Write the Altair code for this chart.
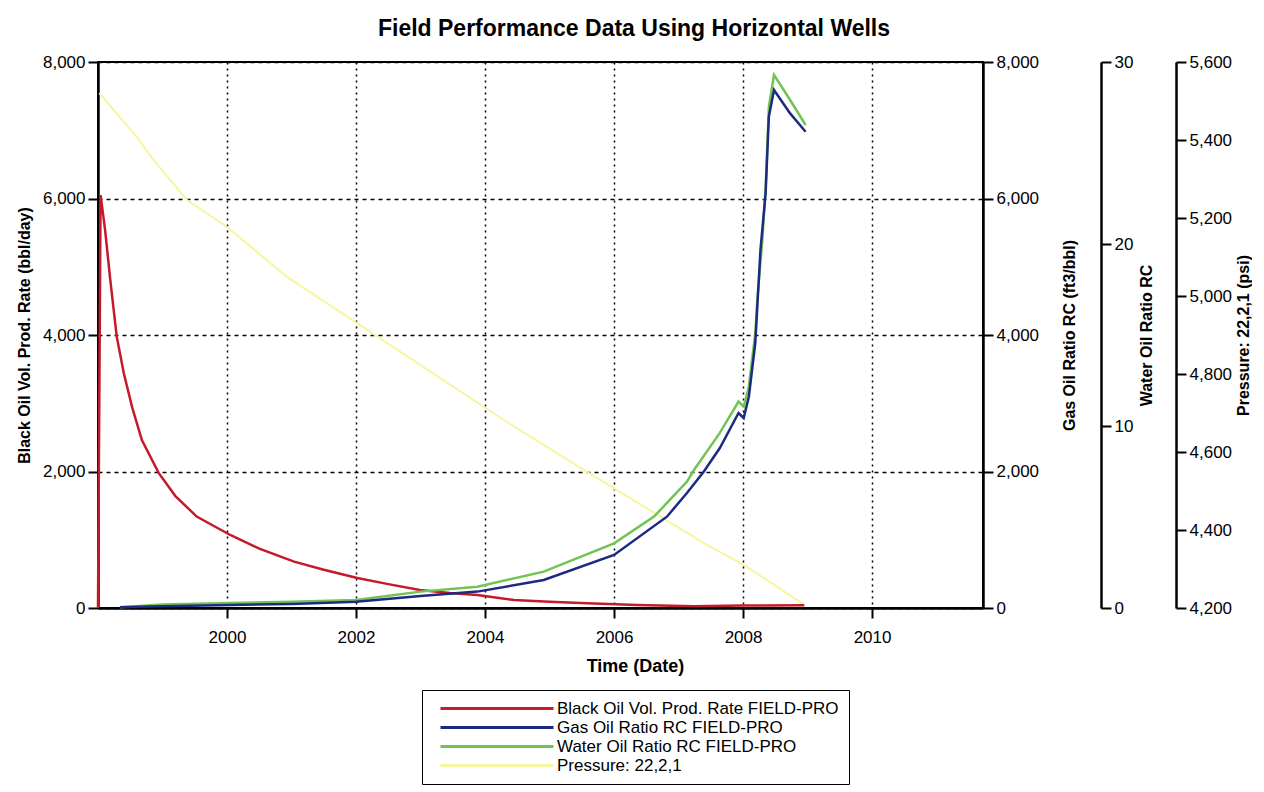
import altair as alt
import pandas as pd

# ---- data ----
oil_year = [1998.00, 1998.04, 1998.11, 1998.19, 1998.29, 1998.40, 1998.53, 1998.68, 1998.94, 1999.20,
            1999.53, 2000.05, 2000.50, 2001.04, 2001.50, 2002.02, 2002.50, 2002.99, 2003.45, 2003.88,
            2004.45, 2005.00, 2005.58, 2006.36, 2007.24, 2008.00, 2008.95]
oil_rate = [0, 6050, 5540, 4810, 3980, 3440, 2940, 2460, 1980, 1640,
            1340, 1070, 870, 680, 560, 440, 350, 265, 220, 190,
            117, 90, 68, 44, 25, 35, 40]

gor_year = [1998.34, 1999.00, 2000.05, 2001.00, 2002.00, 2003.00, 2003.88, 2004.91, 2006.00, 2006.82,
            2007.13, 2007.39, 2007.64, 2007.93, 2008.01, 2008.09, 2008.19, 2008.27, 2008.35, 2008.40,
            2008.48, 2008.73, 2008.97]
gor = [10, 25, 44, 60, 92, 176, 240, 410, 777, 1338,
       1685, 1997, 2344, 2857, 2784, 3096, 3883, 5245, 6080, 7198,
       7590, 7247, 6979]

wor_year = [1998.34, 1999.00, 2000.05, 2001.00, 2002.00, 2003.00, 2003.88, 2004.91, 2006.00, 2006.62,
            2007.13, 2007.24, 2007.64, 2007.93, 2008.01, 2008.09, 2008.19, 2008.22, 2008.30, 2008.35,
            2008.40, 2008.48, 2008.73, 2008.97]
wor = [0.04, 0.19, 0.27, 0.34, 0.44, 0.90, 1.17, 2.00, 3.55, 5.02,
       6.94, 7.58, 9.62, 11.34, 11.06, 12.16, 15.11, 16.92, 20.25, 23.06,
       27.54, 29.29, 27.91, 26.54]

p_year = [1998.02, 1998.60, 1998.86, 1999.38, 2000.00, 2000.93, 2004.29, 2005.58, 2007.44, 2008.02, 2008.95]
pressure = [5520, 5408, 5349, 5246, 5177, 5049, 4682, 4549, 4362, 4310, 4208]

series_names = ["Black Oil Vol. Prod. Rate FIELD-PRO", "Gas Oil Ratio RC FIELD-PRO",
                "Water Oil Ratio RC FIELD-PRO", "Pressure: 22,2,1"]
series_colors = ["#c41a2c", "#1c2a80", "#72c452", "#f6f6a0"]

x_ticks = [2000, 2002, 2004, 2006, 2008, 2010]

FONT = "Liberation Sans"

df_oil = pd.DataFrame({"year": oil_year, "value": oil_rate, "series": series_names[0]})
df_gor = pd.DataFrame({"year": gor_year, "value": gor, "series": series_names[1]})
df_wor = pd.DataFrame({"year": wor_year, "value": wor, "series": series_names[2]})
df_p = pd.DataFrame({"year": p_year, "value": pressure, "series": series_names[3]})

x_enc = alt.X("year:Q",
              scale=alt.Scale(domain=[1998, 2011.72], nice=False, zero=False),
              axis=alt.Axis(values=x_ticks, format="d", title="Time (Date)",
                            grid=True, gridDash=[2, 4], gridColor="black", gridWidth=1.5,
                            domainColor="black", domainWidth=2.5, tickColor="black",
                            tickWidth=2, tickSize=10, labelFontSize=17, labelColor="black",
                            labelPadding=11, titleFontSize=18, titleFontWeight="bold",
                            titlePadding=12, titleColor="black", titleX=537))

color_enc = alt.Color("series:N",
                      scale=alt.Scale(domain=series_names, range=series_colors),
                      legend=alt.Legend(title=None, orient="none", legendX=324, legendY=628,
                                        direction="vertical",
                                        symbolType="M0,0H22.6", symbolSize=100,
                                        symbolStrokeWidth=3, labelOffset=108,
                                        labelFontSize=17, labelColor="black", labelFont=FONT,
                                        strokeColor="black", padding=10, rowPadding=1,
                                        labelLimit=400))

def axis_common(**kw):
    base = dict(domainColor="black", domainWidth=2.5, tickColor="black", tickWidth=2,
                tickSize=10, labelFontSize=17, labelColor="black", labelPadding=3,
                titleFontSize=16, titleFontWeight="bold", titleColor="black")
    base.update(kw)
    return alt.Axis(**base)

oil = alt.Chart(df_oil).mark_line(strokeWidth=2.5).encode(
    x=x_enc,
    y=alt.Y("value:Q", scale=alt.Scale(domain=[0, 8000], nice=False),
            axis=axis_common(orient="left", values=[0, 2000, 4000, 6000, 8000], format=",d",
                             title="Black Oil Vol. Prod. Rate (bbl/day)", grid=True,
                             gridDash=[4, 4], gridColor="black", gridWidth=1.5,
                             titlePadding=10)),
    color=color_enc)

press = alt.Chart(df_p).mark_line(strokeWidth=2).encode(
    x=x_enc,
    y=alt.Y("value:Q", scale=alt.Scale(domain=[4200, 5600], nice=False, zero=False),
            axis=axis_common(orient="right", offset=193,
                             values=[4200, 4400, 4600, 4800, 5000, 5200, 5400, 5600],
                             format=",d", title="Pressure: 22,2,1 (psi)", grid=False,
                             titleAngle=270, titleBaseline="top", titlePadding=4)),
    color=color_enc)

gorc = alt.Chart(df_gor).mark_line(strokeWidth=2.5).encode(
    x=x_enc,
    y=alt.Y("value:Q", scale=alt.Scale(domain=[0, 8000], nice=False),
            axis=axis_common(orient="right", offset=0, values=[0, 2000, 4000, 6000, 8000],
                             format=",d", title="Gas Oil Ratio RC (ft3/bbl)", grid=False,
                             titleAngle=270, titleBaseline="top", titlePadding=23)),
    color=color_enc)

worc = alt.Chart(df_wor).mark_line(strokeWidth=2.5).encode(
    x=x_enc,
    y=alt.Y("value:Q", scale=alt.Scale(domain=[0, 30], nice=False),
            axis=axis_common(orient="right", offset=118, values=[0, 10, 20, 30],
                             format="d", title="Water Oil Ratio RC", grid=False,
                             titleAngle=270, titleBaseline="top", titlePadding=6)),
    color=color_enc)

chart = alt.layer(press, oil, worc, gorc).resolve_scale(
    y="independent"
).properties(
    width=885, height=546,
    padding={"left": 8, "top": 10, "right": 0, "bottom": 0},
    title=alt.Title("Field Performance Data Using Horizontal Wells", fontSize=23,
                    fontWeight="bold", font=FONT, color="black", offset=12, frame="bounds")
).configure(font=FONT).configure_view(stroke="black", strokeWidth=2)

chart.save("out.html", embed_options={"renderer": "svg", "actions": False})
